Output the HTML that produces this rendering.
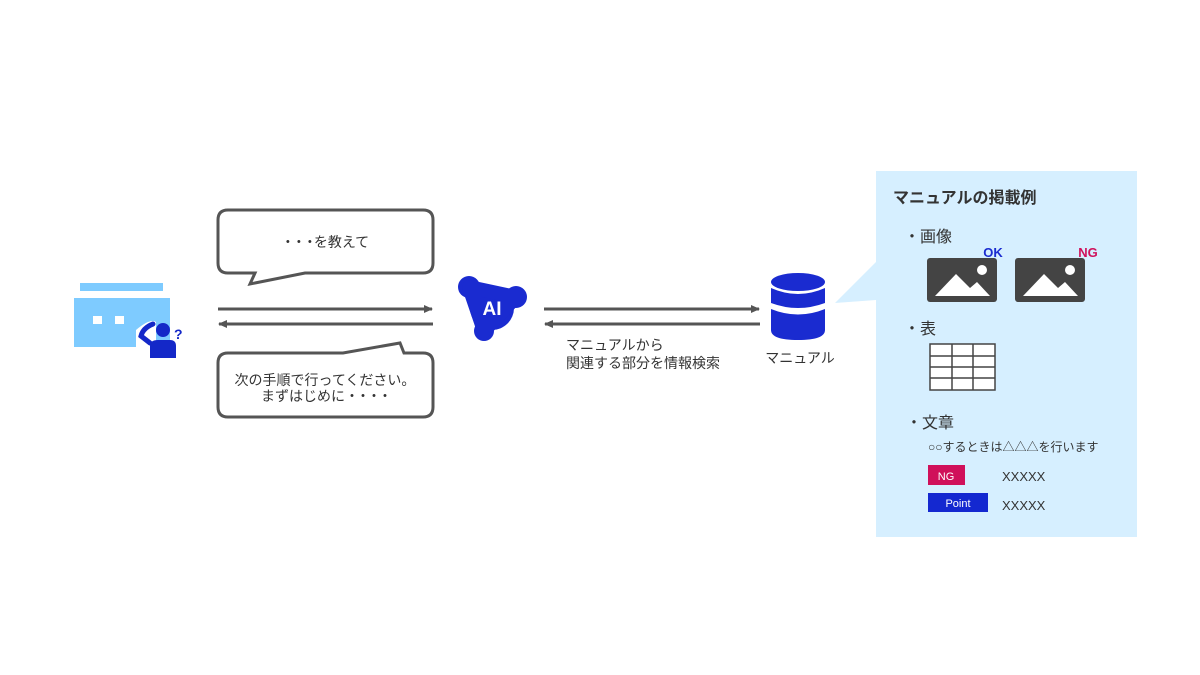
<!DOCTYPE html>
<html><head><meta charset="utf-8"><style>
html,body{margin:0;padding:0;background:#fff;}
svg{display:block;font-family:"Liberation Sans","Noto Sans CJK JP",sans-serif;}
</style></head><body>
<svg width="1200" height="675" viewBox="0 0 1200 675" xmlns="http://www.w3.org/2000/svg">
<defs>
<marker id="ah" markerWidth="10" markerHeight="10" refX="8" refY="5" orient="auto" markerUnits="userSpaceOnUse">
<path d="M0,1 L9,5 L0,9 z" fill="#555"/></marker>
</defs>
<!-- store -->
<rect x="80" y="283" width="83" height="8" fill="#7ecbff"/>
<rect x="74" y="298" width="96" height="49" fill="#7ecbff"/>
<rect x="93" y="316" width="9" height="8" fill="#fff"/>
<rect x="115" y="316" width="9" height="8" fill="#fff"/>
<path d="M136,330 Q150,318 156,322 L156,347 H136 Z" fill="#fff"/>
<circle cx="163" cy="330" r="7" fill="#1428c8"/>
<path d="M150,358 V346 Q150,340 158,340 H170 Q176,340 176,346 V358 Z" fill="#1428c8"/>
<path d="M153,324 Q143,328 141,336 L150,343" fill="none" stroke="#1428c8" stroke-width="5" stroke-linecap="round"/>
<text x="174" y="339" font-size="14" font-weight="bold" fill="#1428c8">?</text>
<!-- bubbles -->
<path d="M228,210 H423 Q433,210 433,220 V263 Q433,273 423,273 H305 L250,284 L255,273 H228 Q218,273 218,263 V220 Q218,210 228,210 Z" fill="#fff" stroke="#555" stroke-width="3"/>
<text x="325" y="247" font-size="14" fill="#333" text-anchor="middle"><tspan letter-spacing="-3">・・・</tspan>を教えて</text>
<path d="M228,353 H343 L400,343 L404,353 H423 Q433,353 433,363 V407 Q433,417 423,417 H228 Q218,417 218,407 V363 Q218,353 228,353 Z" fill="#fff" stroke="#555" stroke-width="3"/>
<text x="325" y="385" font-size="14" fill="#333" text-anchor="middle">次の手順で行ってください。</text>
<text x="325" y="401" font-size="14" fill="#333" text-anchor="middle">まずはじめに<tspan letter-spacing="-3">・・・・</tspan></text>
<!-- arrows -->
<g stroke="#555" stroke-width="3">
<line x1="218" y1="309" x2="432" y2="309" marker-end="url(#ah)"/>
<line x1="433" y1="324" x2="219" y2="324" marker-end="url(#ah)"/>
<line x1="544" y1="309" x2="759" y2="309" marker-end="url(#ah)"/>
<line x1="760" y1="324" x2="545" y2="324" marker-end="url(#ah)"/>
</g>
<!-- AI -->
<g fill="#1a2bd0">
<circle cx="492" cy="308" r="22"/>
<circle cx="469" cy="287" r="11"/>
<circle cx="516" cy="297" r="11"/>
<circle cx="484" cy="331" r="10"/>
<path d="M469,287 L516,297 L484,331 Z" stroke="#1a2bd0" stroke-width="14" stroke-linejoin="round"/>
</g>
<text x="492" y="315" font-size="19" font-weight="bold" fill="#fff" text-anchor="middle">AI</text>
<text x="566" y="350" font-size="14" fill="#333">マニュアルから</text>
<text x="566" y="368" font-size="14" fill="#333">関連する部分を情報検索</text>
<!-- DB -->
<g fill="#1a2bd0">
<ellipse cx="798" cy="282" rx="27" ry="9"/>
<path d="M771,288 Q798,300 825,288 V303 Q798,313 771,303 Z"/>
<path d="M771,309 Q798,320 825,309 V330 Q825,340 798,340 Q771,340 771,330 Z"/>
</g>
<text x="800" y="363" font-size="14" fill="#333" text-anchor="middle">マニュアル</text>
<!-- panel -->
<polygon points="876,262 835,303 876,300" fill="#d6efff"/>
<rect x="876" y="171" width="261" height="366" fill="#d6efff"/>
<text x="893" y="203" font-size="16" font-weight="bold" fill="#333">マニュアルの掲載例</text>
<text x="904" y="242" font-size="16" fill="#333">・画像</text>
<text x="993" y="257" font-size="13" font-weight="bold" fill="#1a2bd0" text-anchor="middle">OK</text>
<text x="1088" y="257" font-size="13" font-weight="bold" fill="#d0105a" text-anchor="middle">NG</text>
<g>
<rect x="927" y="258" width="70" height="44" rx="3" fill="#444"/>
<circle cx="982" cy="270" r="5" fill="#fff"/>
<path d="M935,296 L956,274 L970,288 L977,282 L990,296 Z" fill="#fff"/>
<rect x="1015" y="258" width="70" height="44" rx="3" fill="#444"/>
<circle cx="1070" cy="270" r="5" fill="#fff"/>
<path d="M1023,296 L1044,274 L1058,288 L1065,282 L1078,296 Z" fill="#fff"/>
</g>
<text x="904" y="334" font-size="16" fill="#333">・表</text>
<g stroke="#444" stroke-width="1.5" fill="#fff">
<rect x="930" y="344" width="65" height="46"/>
<line x1="952" y1="344" x2="952" y2="390"/><line x1="973" y1="344" x2="973" y2="390"/>
<line x1="930" y1="356" x2="995" y2="356"/><line x1="930" y1="367" x2="995" y2="367"/><line x1="930" y1="378" x2="995" y2="378"/>
</g>
<text x="906" y="428" font-size="16" fill="#333">・文章</text>
<text x="928" y="451" font-size="12" fill="#333">○○するときは△△△を行います</text>
<rect x="928" y="465" width="37" height="20" fill="#d0105a"/>
<text x="946" y="480" font-size="11" fill="#fff" text-anchor="middle">NG</text>
<text x="1002" y="481" font-size="13" fill="#333">XXXXX</text>
<rect x="928" y="493" width="60" height="19" fill="#1428d0"/>
<text x="958" y="507" font-size="11" fill="#fff" text-anchor="middle">Point</text>
<text x="1002" y="510" font-size="13" fill="#333">XXXXX</text>
</svg>
</body></html>
